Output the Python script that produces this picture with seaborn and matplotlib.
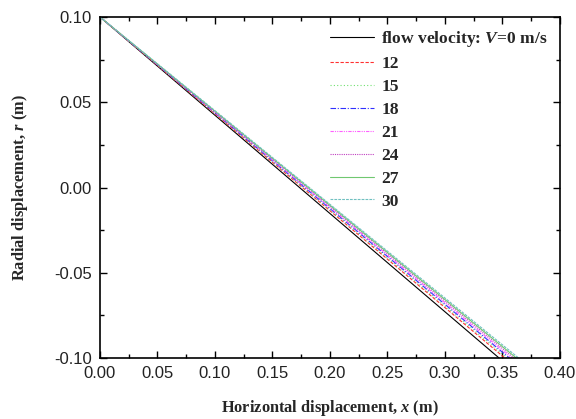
import numpy as np
import pandas as pd
import seaborn as sns
import matplotlib.pyplot as plt
from matplotlib.lines import Line2D
from matplotlib.ticker import MultipleLocator

# flow velocities (m/s) and where each trajectory crosses r = -0.10 m
velocity = [0, 12, 15, 18, 21, 24, 27, 30]
x_start = [0.0, 0.0, 0.0, 0.0, 0.0, 0.0, 0.0, 0.0]
x_end = [0.347, 0.352, 0.354, 0.356, 0.358, 0.360, 0.362, 0.364]
r_start = 0.10
r_end = -0.10

colors = ['black', '#ff3030', '#70e070', '#3030ff', '#ff60ff', '#c040c0', '#70c870', '#70c0c0']
styles = ['-', (0, (3, 1.5)), (0, (1, 2)), (0, (5, 1.5, 1, 1.5)),
          (0, (3, 1, 1, 1, 1, 1)), (0, (1, 1)), '-', (0, (2.5, 1))]

sns.set_style('ticks')
plt.rcParams['font.family'] = 'sans-serif'
plt.rcParams['font.sans-serif'] = ['Liberation Sans']
plt.rcParams['mathtext.fontset'] = 'custom'
plt.rcParams['mathtext.it'] = 'Liberation Serif:bold:italic'
plt.rcParams['mathtext.rm'] = 'Liberation Serif:bold'

fig = plt.figure(figsize=(5.76, 4.19), dpi=100)
ax = fig.add_axes([0.1736, 0.1456, 0.7986, 0.8138])

handles = []
labels = []
for i, v in enumerate(velocity):
    df = pd.DataFrame({'x': [x_start[i], x_end[i]], 'r': [r_start, r_end]})
    sns.lineplot(data=df, x='x', y='r', ax=ax, color=colors[i],
                 linestyle=styles[i], linewidth=0.8, legend=False)
    handles.append(Line2D([], [], color=colors[i], linestyle=styles[i], linewidth=0.8))
    labels.append('flow velocity: $V$=0 m/s' if v == 0 else str(v))

ax.set_xlim(0, 0.40)
ax.set_ylim(-0.10, 0.10)
ax.xaxis.set_major_locator(MultipleLocator(0.05))
ax.xaxis.set_minor_locator(MultipleLocator(0.025))
ax.yaxis.set_major_locator(MultipleLocator(0.05))
ax.yaxis.set_minor_locator(MultipleLocator(0.025))
ax.xaxis.set_major_formatter(plt.FormatStrFormatter('%.2f'))
ax.yaxis.set_major_formatter(plt.FormatStrFormatter('%.2f'))
ax.tick_params(which='both', direction='in', top=True, right=True,
               labelsize=12, width=1, color='black', labelcolor='#222222')
ax.tick_params(which='major', length=5, pad=6)
ax.tick_params(which='minor', length=3)
for s in ax.spines.values():
    s.set_linewidth(1.2)
    s.set_color('black')

serif = {'family': 'Liberation Serif', 'weight': 'bold', 'size': 11.8}
ax.set_xlabel('Horizontal displacement, $x$ (m)', fontdict=serif, labelpad=12)
ax.set_ylabel('Radial displacement, $r$ (m)', fontdict=serif, labelpad=17)

ax.legend(handles, labels, loc='upper right', frameon=False, handlelength=2.5,
          handletextpad=0.4, labelspacing=0.38, borderaxespad=0.3,
          prop={'family': 'Liberation Serif', 'weight': 'bold', 'size': 12.6})

fig.savefig('out.png', dpi=100)
